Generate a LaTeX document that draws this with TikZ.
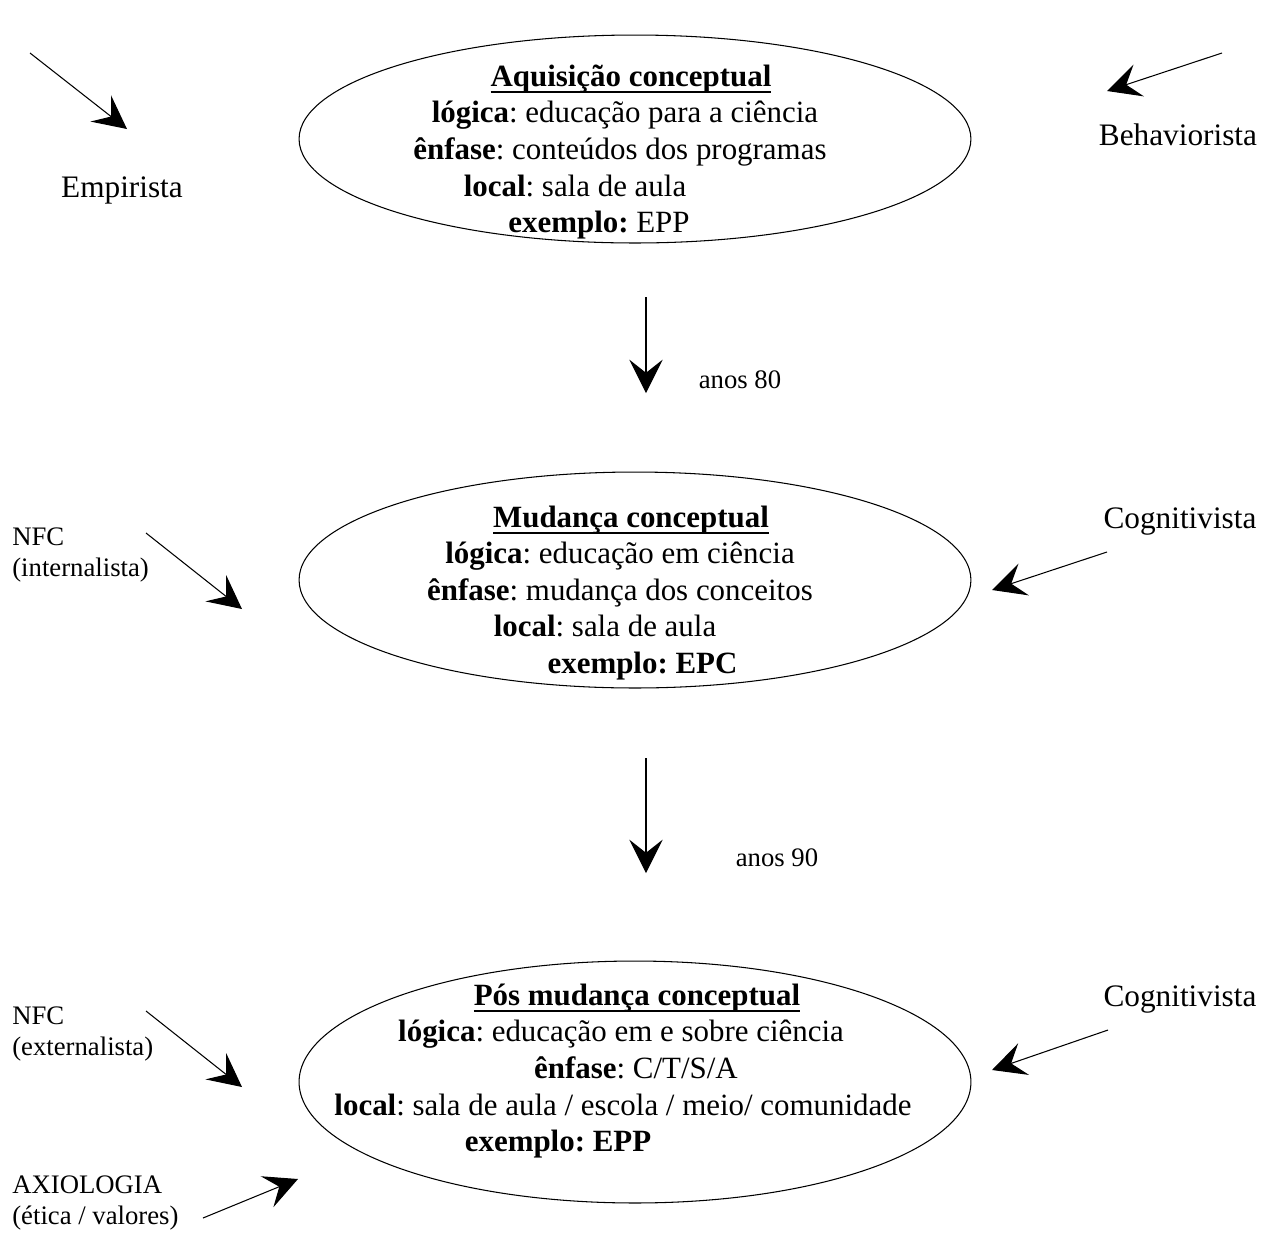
\documentclass[tikz,border=0pt]{standalone}
\usepackage{fontspec}
\setmainfont{Liberation Serif}
\usetikzlibrary{arrows.meta,positioning,shapes.geometric}

\frenchspacing
\newcommand{\stagetitle}[1]{%
  \setbox0=\hbox{\bfseries #1}%
  \rlap{\rule[-4pt]{\wd0}{1.3pt}}\box0}

\begin{document}
\begin{tikzpicture}
[
    x = 0.02cm, y = -0.02cm,
    stage/.style     = {ellipse,
                        draw,
                        line width=0.6pt,
                        inner sep=0pt,
                        minimum width=13.44cm},
    stagetext/.style = {align=center,
                        inner sep=0pt,
                        font=\fontsize{17.6}{20.8}\selectfont},
    big/.style       = {inner sep=0pt,
                        font=\fontsize{17.8}{20.8}\selectfont},
    small/.style     = {align=left,
                        anchor=west,
                        inner sep=0pt,
                        font=\fontsize{15.2}{17.6}\selectfont},
    arr/.style       = {line width=0.6pt,
                        -{Stealth[length=19pt, width=19pt, inset=7.5pt]}}
]

\useasboundingbox (0,0) rectangle (1262,1232);

\node (aq) [stage, minimum height=4.16cm] at (635,139) {};
\node (aqtext) [stagetext] at (635,152) {
\hspace*{-0.16cm}\stagetitle{Aquisição conceptual}\\
\hspace*{-0.4cm}\textbf{lógica}: educação para a ciência\\
\hspace*{-0.6cm}\textbf{ênfase}: conteúdos dos programas\\
\hspace*{-2.4cm}\textbf{local}: sala de aula\\
\hspace*{-1.44cm}\textbf{exemplo:} EPP
};

\node (mud) [stage, minimum height=4.32cm] at (635,580) {};
\node (mudtext) [stagetext] at (635,593) {
\hspace*{-0.16cm}\stagetitle{Mudança conceptual}\\
\hspace*{-0.6cm}\textbf{lógica}: educação em ciência\\
\hspace*{-0.6cm}\textbf{ênfase}: mudança dos conceitos\\
\hspace*{-1.2cm}\textbf{local}: sala de aula\\
\hspace*{0.3cm}\textbf{exemplo: EPC}
};

\node (pos) [stage, minimum height=4.84cm] at (635,1082) {};
\node (postext) [stagetext] at (635,1071) {
\hspace*{0.08cm}\stagetitle{Pós mudança conceptual}\\
\hspace*{-0.56cm}\textbf{lógica}: educação em e sobre ciência\\
\hspace*{0.04cm}\textbf{ênfase}: C/T/S/A\\
\hspace*{-0.48cm}\textbf{local}: sala de aula / escola / meio/ comunidade\\
\hspace*{-3.08cm}\textbf{exemplo: EPP}
};

\node (emp) [big] at (122,190) {Empirista};
\node (beh) [big] at (1178,135) {Behaviorista};
\node (cog1) [big] at (1180,522) {Cognitivista};
\node (cog2) [big] at (1180,1000) {Cognitivista};

\node (nfc1) [small] at (12,555) {NFC\\(internalista)};
\node (nfc2) [small] at (12,1034) {NFC\\(externalista)};
\node (axio) [small] at (12,1203) {AXIOLOGIA\\(ética / valores)};

\node (anos80) [small, anchor=center] at (740,380) {anos 80};
\node (anos90) [small, anchor=center] at (777,858) {anos 90};

\coordinate (emp0) at (30,53);
\coordinate (emp1) at (127,129);
\coordinate (beh0) at (1222,53);
\coordinate (beh1) at (1107,91);
\coordinate (nfc1a) at (146,533);
\coordinate (nfc1b) at (242,609);
\coordinate (cog1a) at (1107,552);
\coordinate (cog1b) at (992,590);
\coordinate (d1a) at (646,297);
\coordinate (d1b) at (646,393);
\coordinate (d2a) at (646,758);
\coordinate (d2b) at (646,873);
\coordinate (nfc2a) at (146,1011);
\coordinate (nfc2b) at (242,1087);
\coordinate (cog2a) at (1108,1030);
\coordinate (cog2b) at (992,1070);
\coordinate (axioa) at (203,1218);
\coordinate (axiob) at (298,1179);

\draw[arr] (emp0) -- (emp1);
\draw[arr] (beh0) -- (beh1);
\draw[arr] (d1a) -- (d1b);
\draw[arr] (nfc1a) -- (nfc1b);
\draw[arr] (cog1a) -- (cog1b);
\draw[arr] (d2a) -- (d2b);
\draw[arr] (nfc2a) -- (nfc2b);
\draw[arr] (cog2a) -- (cog2b);
\draw[arr] (axioa) -- (axiob);

\end{tikzpicture}
\end{document}
